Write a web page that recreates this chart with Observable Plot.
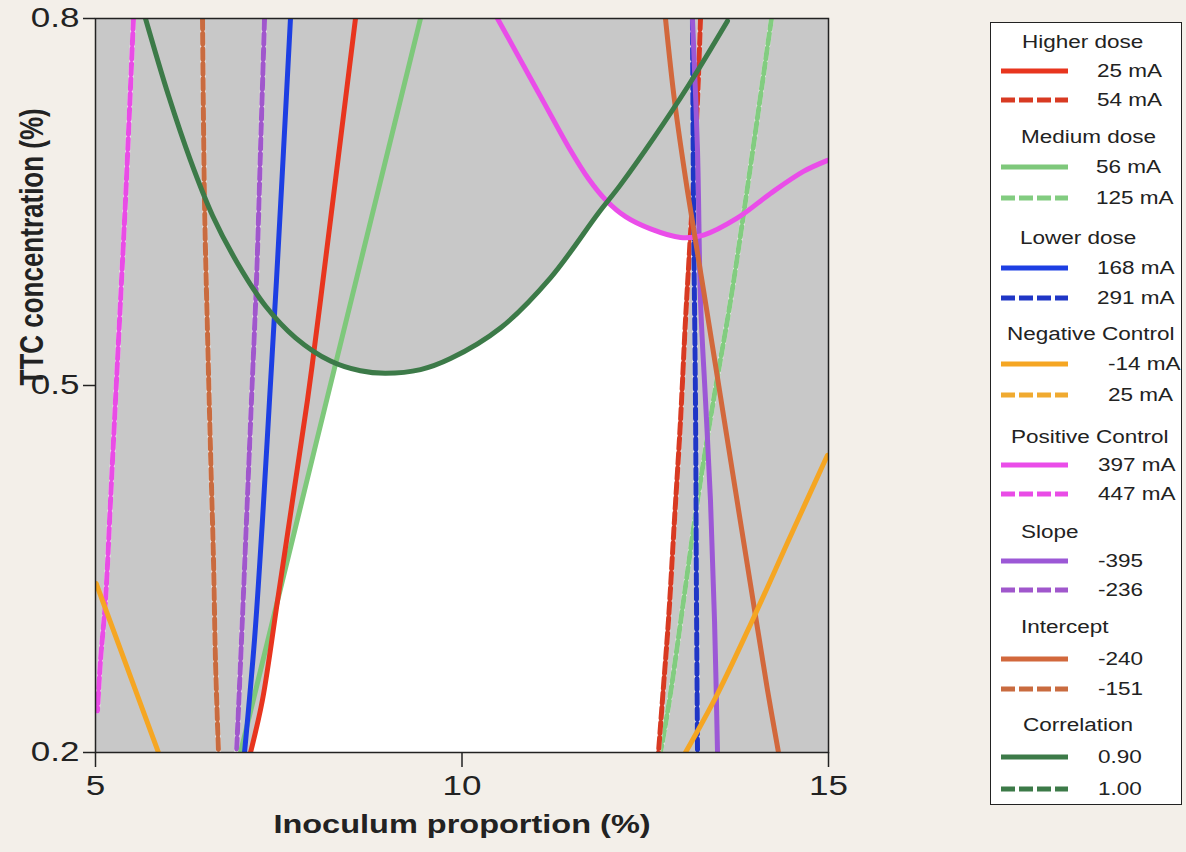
<!DOCTYPE html>
<html><head><meta charset="utf-8">
<script src="https://cdn.jsdelivr.net/npm/d3@7"></script>
<script src="https://cdn.jsdelivr.net/npm/@observablehq/plot@0.6"></script>
<style>
body{margin:0;background:#f3efe9;width:1186px;height:852px;overflow:hidden;position:relative;font-family:"Liberation Sans",Arial,sans-serif;}
#chart{position:absolute;left:0;top:0;}
#legend{position:absolute;left:990px;top:22px;width:192px;height:783px;border:1.5px solid #222;background:#fff;box-sizing:border-box;}
.lt{position:absolute;font-size:18px;color:#222;white-space:nowrap;transform:scaleX(1.25);transform-origin:left center;line-height:18px;height:18px;}
.ls{position:absolute;}
</style></head><body>
<div id="chart"></div><div id="legend"></div>
<script>
// ---------- data (x = inoculum proportion %, y = TTC concentration) ----------
const xTicks = [5, 10, 15];
const yTicks = [0.2, 0.5, 0.8];

const higherDose25 = [[7.115,0.200],[7.278,0.243],[7.483,0.324],[7.688,0.406],[7.892,0.488],[8.070,0.570],[8.274,0.668],[8.547,0.800]];
const higherDose54 = [[13.254,0.800],[13.213,0.733],[13.158,0.668],[13.104,0.610],[13.049,0.553],[12.981,0.471],[12.899,0.390],[12.817,0.308],[12.735,0.243],[12.681,0.200]];
const mediumDose56 = [[9.434,0.800],[8.010,0.453],[7.483,0.324],[6.978,0.200]];
const mediumDose125 = [[14.222,0.800],[14.045,0.725],[13.868,0.651],[13.663,0.569],[13.431,0.488],[13.213,0.406],[13.022,0.324],[12.831,0.243],[12.708,0.200]];
const lowerDose168 = [[7.660,0.800],[7.565,0.692],[7.469,0.586],[7.374,0.488],[7.278,0.390],[7.169,0.292],[7.033,0.200]];
const lowerDose291 = [[13.144,0.800],[13.158,0.651],[13.185,0.488],[13.199,0.324],[13.213,0.200]];
const negControlM14a = [[5.010,0.338],[5.859,0.200]];
const negControlM14b = [[14.986,0.443],[14.482,0.377],[13.977,0.310],[13.486,0.248],[13.049,0.200]];
const posControl397 = [[10.484,0.800],[10.798,0.766],[11.139,0.729],[11.453,0.695],[11.726,0.669],[11.971,0.651],[12.231,0.638],[12.572,0.628],[12.981,0.621],[13.295,0.623],[13.759,0.637],[14.209,0.657],[14.659,0.675],[14.986,0.684]];
const posControl447 = [[5.518,0.800],[5.450,0.706],[5.409,0.651],[5.341,0.569],[5.273,0.488],[5.205,0.406],[5.136,0.324],[5.068,0.275],[5.027,0.234]];
const slopeM395 = [[13.144,0.800],[13.213,0.692],[13.254,0.569],[13.322,0.488],[13.390,0.406],[13.445,0.308],[13.486,0.200]];
const slopeM236 = [[7.306,0.800],[7.251,0.692],[7.196,0.586],[7.128,0.488],[7.060,0.390],[6.992,0.292],[6.924,0.200]];
const interceptM240 = [[12.776,0.800],[12.899,0.733],[13.076,0.659],[13.295,0.578],[13.513,0.496],[13.731,0.414],[13.950,0.332],[14.168,0.251],[14.318,0.200]];
const interceptM151 = [[6.460,0.800],[6.487,0.651],[6.528,0.543],[6.569,0.447],[6.610,0.357],[6.637,0.275],[6.678,0.200]];
const correlation090 = [[5.682,0.800],[5.996,0.737],[6.296,0.684],[6.596,0.639],[6.937,0.600],[7.319,0.565],[7.729,0.539],[8.206,0.520],[8.615,0.512],[8.956,0.510],[9.434,0.513],[9.843,0.522],[10.525,0.547],[11.207,0.588],[11.862,0.641],[12.162,0.664],[12.612,0.702],[13.076,0.744],[13.622,0.798]];
const feasibleRegion = [[7.115,0.200],[7.278,0.243],[7.483,0.324],[8.010,0.453],[8.281,0.519],[8.615,0.512],[8.956,0.510],[9.434,0.513],[9.843,0.522],[10.525,0.547],[11.207,0.588],[11.862,0.641],[11.971,0.650],[12.231,0.638],[12.572,0.628],[12.981,0.621],[13.113,0.621],[13.104,0.610],[13.049,0.553],[12.981,0.471],[12.899,0.390],[12.817,0.308],[12.735,0.243],[12.681,0.200]];

const legendTitles = ["Higher dose","Medium dose","Lower dose","Negative Control","Positive Control","Slope","Intercept","Correlation"];
const legendSolidLabels = ["25 mA","56 mA","168 mA","-14 mA","397 mA","-395","-240","0.90"];
const legendDashedLabels = ["54 mA","125 mA","291 mA","25 mA","447 mA","-236","-151","1.00"];

// ---------- styles ----------
const colors = {
  higher: "#e8351e", higherDash: "#d83a22",
  medium: "#7ec87b", mediumDash: "#82cc80",
  lower: "#1d3fe3", lowerDash: "#1f36c6",
  neg: "#f5a623", negDash: "#f0aa30",
  pos: "#ea4de9", posDash: "#e94ce6",
  slope: "#9c58d6", slopeDash: "#a057cc",
  intercept: "#d2683c", interceptDash: "#c96b3f",
  corr: "#3c7a48", corrDash: "#3c7a48"
};
const legendColors = [["higher","higherDash"],["medium","mediumDash"],["lower","lowerDash"],["neg","negDash"],["pos","posDash"],["slope","slopeDash"],["intercept","interceptDash"],["corr","corrDash"]];

const curves = [
  {pts: interceptM151, color: colors.interceptDash, dashed: true},
  {pts: slopeM236, color: colors.slopeDash, dashed: true},
  {pts: posControl447, color: colors.posDash, dashed: true},
  {pts: mediumDose125, color: colors.mediumDash, dashed: true},
  {pts: higherDose54, color: colors.higherDash, dashed: true},
  {pts: lowerDose291, color: colors.lowerDash, dashed: true},
  {pts: mediumDose56, color: colors.medium},
  {pts: higherDose25, color: colors.higher},
  {pts: lowerDose168, color: colors.lower},
  {pts: slopeM395, color: colors.slope},
  {pts: posControl397, color: colors.pos},
  {pts: interceptM240, color: colors.intercept},
  {pts: negControlM14a, color: colors.neg},
  {pts: negControlM14b, color: colors.neg},
  {pts: correlation090, color: colors.corr}
];

const X = d => d[0], Y = d => d[1];
const lineMarks = [];
for (const c of curves) {
  if (c.dashed) {
    lineMarks.push(Plot.line(c.pts, {x: X, y: Y, stroke: "#f6f2f2", strokeWidth: 5, curve: "catmull-rom", clip: true}));
    lineMarks.push(Plot.line(c.pts, {x: X, y: Y, stroke: c.color, strokeWidth: 5, strokeDasharray: "11 4", curve: "catmull-rom", clip: true}));
  } else {
    lineMarks.push(Plot.line(c.pts, {x: X, y: Y, stroke: c.color, strokeWidth: 5, curve: "catmull-rom", clip: true}));
  }
}

const chart = Plot.plot({
  width: 1186, height: 852,
  marginLeft: 95, marginRight: 358, marginTop: 18, marginBottom: 100,
  style: {background: "transparent", fontFamily: "'Liberation Sans', Arial, sans-serif", color: "#222", overflow: "visible"},
  x: {domain: [5, 15]},
  y: {domain: [0.2, 0.8]},
  marks: [
    Plot.frame({fill: "#c8c8c8", stroke: "none"}),
    Plot.line(feasibleRegion, {x: X, y: Y, fill: "white", stroke: "none", curve: "linear"}),
    ...lineMarks,
    Plot.frame({stroke: "#222", strokeWidth: 1.5}),
    Plot.axisX({ticks: xTicks, tickSize: 15, tickPadding: 8, fontSize: 28, label: null, stroke: "#222", strokeWidth: 1.5, tickFormat: d => String(d)}),
    Plot.axisY({ticks: yTicks, tickSize: 12, tickPadding: 4, fontSize: 28, label: null, stroke: "#222", strokeWidth: 1.5, tickFormat: d => d.toFixed(1)}),
    Plot.text(["Inoculum proportion (%)"], {text: d => d, frameAnchor: "bottom", dy: 80, fontSize: 26, fontWeight: "bold", fill: "#222"}),
    Plot.text(["TTC concentration (%)"], {text: d => d, frameAnchor: "left", dx: -63, rotate: -90, fontSize: 26, fontWeight: "bold", fill: "#222"})
  ]
});
document.getElementById("chart").appendChild(chart);

// make sure dash patterns are applied to the dashed paths
chart.querySelectorAll("[stroke-dasharray]").forEach(g => {
  const v = g.getAttribute("stroke-dasharray");
  g.querySelectorAll("path").forEach(p => p.setAttribute("stroke-dasharray", v));
});

// widen glyphs horizontally like the reference rendering
chart.querySelectorAll("text").forEach(t => {
  const tr = t.getAttribute("transform") || "";
  t.setAttribute("transform", tr + (tr.includes("rotate") ? " scale(1,1.25)" : " scale(1.25,1)"));
});

// ---------- legend ----------
const titleY = [42,137,238,334,437,532,627,725];
const rowY = [[71,100],[167,198],[268,298],[364,395],[465,494],[561,590],[659,689],[757,789]];
const titleX = [1022,1021,1020,1007,1011,1021,1021,1023];
const valueX = [1097,1096,1097,1108,1098,1098,1098,1098];
const L = document.getElementById("legend");
const ox = 990, oy = 22;
function addText(txt, x, y) {
  const s = document.createElement("div");
  s.className = "lt"; s.textContent = txt;
  s.style.left = (x - ox - 1.5) + "px"; s.style.top = (y - oy - 1.5 - 9) + "px";
  L.appendChild(s);
}
function addSample(color, dashed, y) {
  const ns = "http://www.w3.org/2000/svg";
  const s = document.createElementNS(ns, "svg");
  s.setAttribute("class", "ls"); s.setAttribute("width", 70); s.setAttribute("height", 10);
  s.style.left = (1000 - ox - 1.5) + "px"; s.style.top = (y - oy - 1.5 - 5) + "px";
  const l = document.createElementNS(ns, "line");
  l.setAttribute("x1", 1); l.setAttribute("x2", 68); l.setAttribute("y1", 5); l.setAttribute("y2", 5);
  l.setAttribute("stroke", color); l.setAttribute("stroke-width", 5);
  if (dashed) l.setAttribute("stroke-dasharray", "14,4");
  s.appendChild(l); L.appendChild(s);
}
legendTitles.forEach((t, i) => {
  addText(t, titleX[i], titleY[i]);
  addSample(colors[legendColors[i][0]], false, rowY[i][0]);
  addText(legendSolidLabels[i], valueX[i], rowY[i][0]);
  addSample(colors[legendColors[i][1]], true, rowY[i][1]);
  addText(legendDashedLabels[i], valueX[i], rowY[i][1]);
});
</script>
</body></html>
